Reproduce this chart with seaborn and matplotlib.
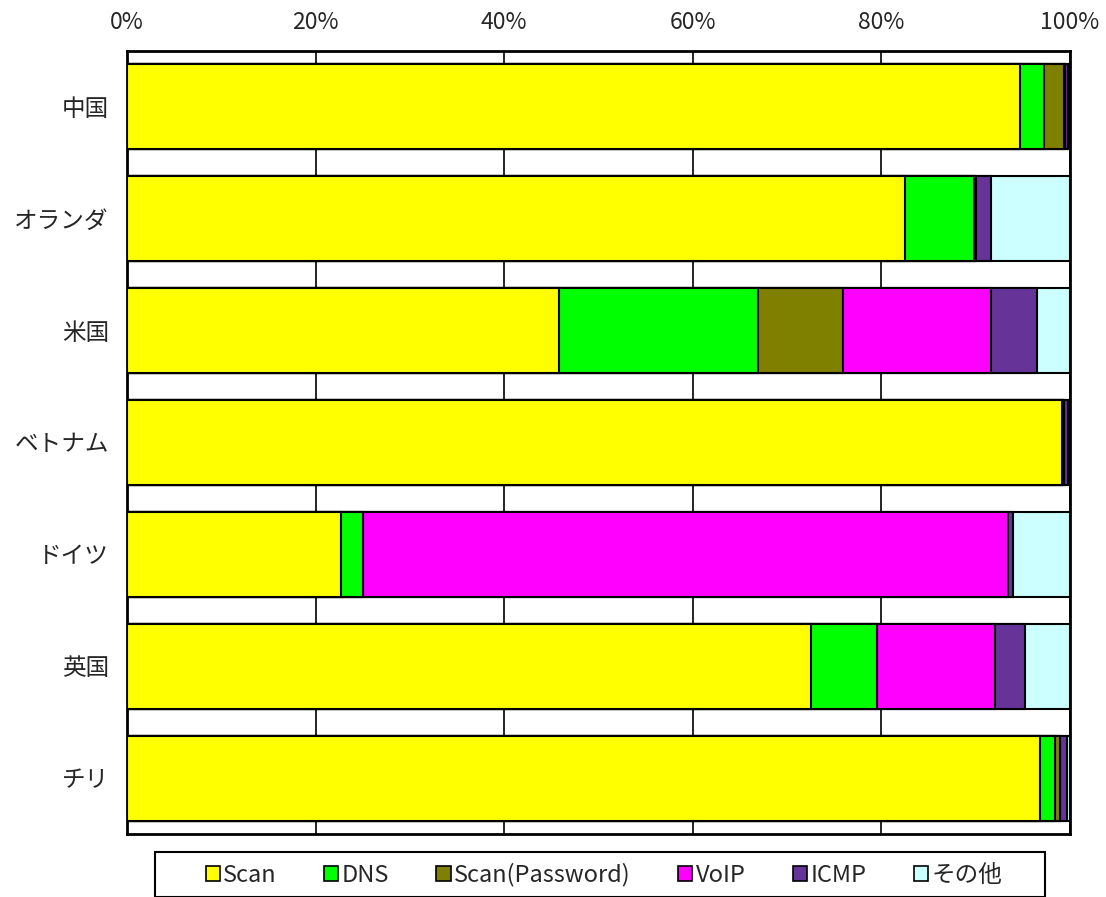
import pandas as pd
import matplotlib
matplotlib.use("Agg")
import matplotlib.pyplot as plt
import seaborn as sns
from matplotlib.patches import Patch, Rectangle

# --- datos (porcentaje por país) ---
countries = ["中国", "オランダ", "米国", "ベトナム", "ドイツ", "英国", "チリ"]
categories = ["Scan", "DNS", "Scan(Password)", "VoIP", "ICMP", "その他"]
scan      = [94.7, 82.5, 45.8, 99.2, 22.7, 72.5, 96.8]
dns       = [2.5, 7.3, 21.1, 0.1, 2.3, 7.0, 1.6]
scan_pw   = [2.2, 0.0, 9.0, 0.1, 0.0, 0.0, 0.5]
voip      = [0.1, 0.2, 15.7, 0.0, 68.4, 12.5, 0.0]
icmp      = [0.3, 1.6, 4.9, 0.4, 0.6, 3.2, 0.8]
other     = [0.2, 8.4, 3.5, 0.2, 6.0, 4.8, 0.3]
colors = ["#FFFF00", "#00FF00", "#808000", "#FF00FF", "#663399", "#CCFFFF"]

FONT = ["Noto Sans CJK JP", "DejaVu Sans"]


def main():
    sns.set_style("white")
    plt.rcParams["font.family"] = FONT

    df = pd.DataFrame({"country": countries})
    series = [scan, dns, scan_pw, voip, icmp, other]
    for name, vals in zip(categories, series):
        df[name] = vals
    # acumulados para barras apiladas
    cum = df[categories].cumsum(axis=1)

    W, H = 1106, 897
    fig = plt.figure(figsize=(W / 100, H / 100), dpi=100)
    ax = fig.add_axes([127 / W, 1 - 834 / H, 943 / W, 783 / H])

    for name, col in reversed(list(zip(categories, colors))):
        sns.barplot(x=cum[name], y=df["country"], color=col, orient="h",
                    width=0.76, edgecolor="black", linewidth=1.5,
                    saturation=1, ax=ax, zorder=3)

    ax.set_xlim(0, 100)
    ticks = [0, 20, 40, 60, 80, 100]
    ax.set_xticks(ticks)
    ax.set_xticklabels([f"{v}%" for v in ticks])
    ax.xaxis.tick_top()
    ax.tick_params(axis="x", length=0, pad=12, labelsize=16.5)
    ax.tick_params(axis="y", length=0, pad=13, labelsize=17)
    ax.set_xlabel("")
    ax.set_ylabel("")
    ax.grid(axis="x", color="black", linewidth=1.2, zorder=0)
    ax.set_axisbelow(True)
    for sp in ax.spines.values():
        sp.set_visible(True)
        sp.set_color("black")
        sp.set_linewidth(2)

    # leyenda con marco propio (más ancho que el contenido)
    fig.patches.append(Rectangle((155 / W, 0.5 / H), 890 / W, 45 / H,
                                 transform=fig.transFigure, fill=False,
                                 edgecolor="black", linewidth=1.5))
    handles = [Patch(facecolor=c, edgecolor="black", linewidth=1.2) for c in colors]
    fig.legend(handles, categories, loc="center",
               bbox_to_anchor=(604 / W, 1 - 875 / H),
               ncol=6, frameon=False, fontsize=17,
               handlelength=0.6, handleheight=0.6,
               handletextpad=0.15, columnspacing=2.0)

    fig.savefig("out.png", dpi=100)


if __name__ == "__main__":
    main()
